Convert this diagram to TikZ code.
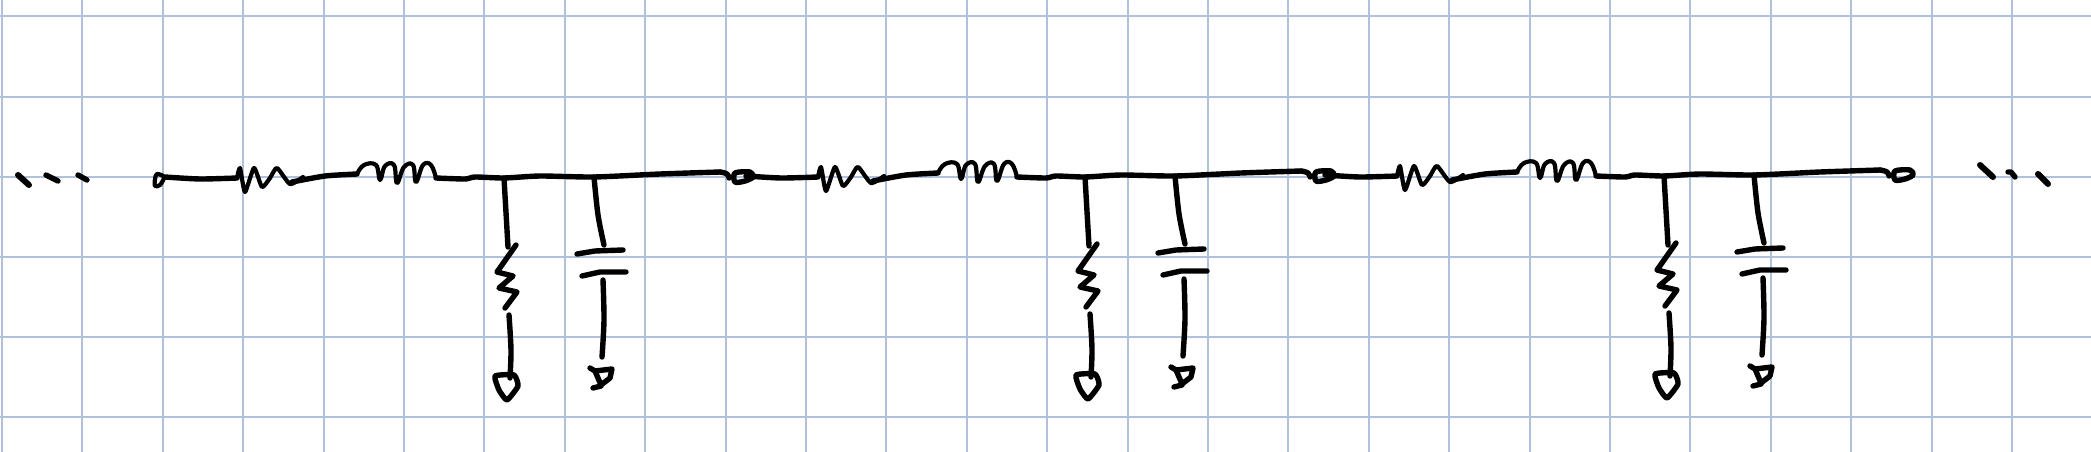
\documentclass[tikz,border=0pt]{standalone}
\definecolor{gridblue}{HTML}{B0C1DC}
\tikzset{
	gridline/.style={draw=gridblue, line width=2pt},
	ink/.style={draw=black, line width=5.4pt, line cap=round, line join=round},
	thinink/.style={ink, line width=4.2pt}
}
\begin{document}
\begin{tikzpicture}[x=1pt,y=-1pt]
\useasboundingbox (0,0) rectangle (2091,452);
\foreach \gx in {0,...,25}
	\draw[gridline] ({2+80.4*\gx},0) -- ({2+80.4*\gx},452);
\foreach \gy in {0,...,5}
	\draw[gridline] (0,{16.5+80*\gy}) -- (2091,{16.5+80*\gy});
% dots on the left
\draw[ink, line width=6pt] (18,175) -- (29,185);
\draw[ink] (46,175) -- (58,181);
\draw[ink] (78,175) -- (87,180);
% first terminal
\draw[thinink] plot[smooth cycle] coordinates {(157,174) (164,177) (160,185) (155,186) (155,179)};
% one section of the line
\foreach \dx/\dy in {0/0,581/-1,1160/-2}{
\begin{scope}[xshift=\dx pt,yshift=-\dy pt]
	\coordinate (wireIn) at (165,177);
	\coordinate (seriesR) at (237,178);
	\coordinate (seriesRend) at (303,177);
	\coordinate (seriesL) at (357,174);
	\coordinate (seriesLend) at (436,178);
	\coordinate (joinR) at (504,178);
	\coordinate (joinC) at (594,177);
	\coordinate (wireOut) at (720,172);
	% series resistor
	\draw[ink] plot[smooth, tension=.4] coordinates {(wireIn) (200,179) (seriesR)};
	\draw[thinink] plot[smooth, tension=.35] coordinates {(seriesR) (240,168) (245,192) (254,168) (262,187) (270,178) (277,168) (290,184) (seriesRend)};
	\draw[ink] plot[smooth, tension=.4] coordinates {(292,182) (325,176) (seriesL)};
	% series inductor
	\draw[thinink] plot[smooth, tension=.7] coordinates {(seriesL) (364,165) (376,165) (380,180) (385,166) (394,165) (397,183) (404,167) (413,165) (416,182) (423,165) (431,165) (seriesLend)};
	% top wire
	\draw[ink] plot[smooth, tension=.4] coordinates {(seriesLend) (465,179) (475,177) (joinR) (540,176) (joinC) (660,174) (wireOut)};
	\draw[ink] plot[smooth, tension=.8] coordinates {(wireOut) (727,174) (729,178)};
	\draw[ink] plot[smooth cycle] coordinates {(735,173) (750,172) (753,177) (745,181) (735,182)};
	% shunt resistor
	\draw[ink] (joinR) -- (508,247);
	\draw[ink] (516,245) -- (497,272) -- (513,276) -- (499,288) -- (517,292) -- (505,308);
	\draw[ink] plot[smooth] coordinates {(509,315) (511,350) (510,378)};
	\draw[ink] plot[smooth cycle, tension=.3] coordinates {(495,376) (514,375) (518,386) (507,400) (499,390)};
	% shunt capacitor
	\draw[ink] plot[smooth] coordinates {(joinC) (598,215) (604,245)};
	\draw[ink] (577,254) -- (595,251) -- (623,250);
	\draw[ink] (582,276) -- (600,272) -- (626,272);
	\draw[ink] plot[smooth] coordinates {(603,280) (604,320) (602,357)};
	\draw[ink] (590,368) -- (595,371) -- (612,369) -- (610,378) -- (601,385) -- (595,371);
	\draw[ink] (593,388) -- (601,386);
\end{scope}
}
% dots on the right
\draw[ink, line width=6pt] (1980,165) -- (1993,177);
\draw[ink] (2008,172) -- (2011,172) -- (2015,177);
\draw[ink, line width=6pt] (2038,174) -- (2048,184);
\end{tikzpicture}
\end{document}
